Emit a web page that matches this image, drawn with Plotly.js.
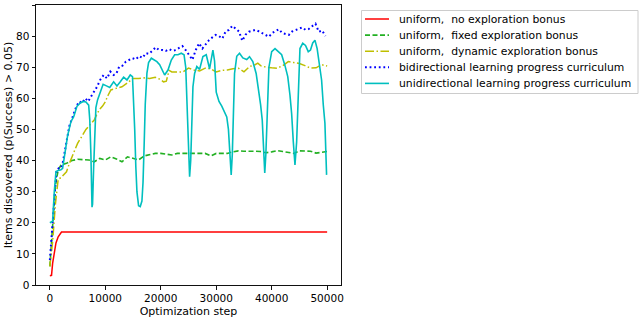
<!DOCTYPE html>
<html>
<head>
<meta charset="utf-8">
<script src="https://cdn.plot.ly/plotly-3.0.1.min.js"></script>
<style>html,body{margin:0;padding:0;background:#fff;}#chart{width:640px;height:318px;}</style>
</head>
<body>
<div id="chart"></div>
<script>
// ---- data ----
const seriesNames = [
  "uniform,\u00a0 no exploration bonus",
  "uniform,\u00a0 fixed exploration bonus",
  "uniform,\u00a0 dynamic exploration bonus",
  "bidirectional learning progress curriculum",
  "unidirectional learning progress curriculum"
];

const xRed = [0, 300, 500, 800, 1100, 1500, 1800, 2100, 50000];
const yRed = [3, 3.1, 7, 11, 13.5, 15.5, 16.5, 17, 17];

const xGreen = [0, 500, 1000, 1500, 2000, 3000, 4000, 5000, 6000, 7000, 8000, 9000, 10000, 11000, 12000, 13000, 14000, 15000, 16000, 17000, 18000, 19000, 20000, 21000, 22000, 23000, 24000, 25000, 26000, 27000, 28000, 29000, 30000, 31000, 32000, 33000, 34000, 35000, 36000, 37000, 38000, 39000, 40000, 41000, 42000, 43000, 44000, 45000, 46000, 47000, 48000, 49000, 50000];
const yGreen = [6, 20, 32, 37, 38.5, 39.1, 40, 40.4, 40.2, 40.2, 39.6, 40.7, 40.2, 41.2, 40.5, 39.6, 41.2, 40.7, 40.2, 41.5, 42, 42.3, 42.3, 42.1, 41.8, 42.3, 42.3, 42.3, 42.3, 42.3, 42.3, 41.5, 42.3, 42.3, 42.3, 42.8, 43.1, 43, 43.1, 43, 42.9, 42.5, 42.8, 43.2, 42.9, 42.6, 42.3, 43.1, 43.1, 43, 42.4, 42.7, 42.9];

const xYellow = [0, 500, 1000, 1500, 2000, 2500, 3000, 3500, 4000, 4500, 5000, 5500, 6000, 6500, 7000, 7500, 8000, 8500, 9000, 9500, 10000, 10500, 11000, 11500, 12000, 13000, 14000, 15000, 16000, 17000, 18000, 19000, 20000, 20500, 21000, 21500, 22000, 23000, 24000, 25000, 26000, 27000, 28000, 29000, 30000, 31000, 32000, 33000, 34000, 35000, 36000, 37000, 37500, 38000, 39000, 40000, 41000, 42000, 43000, 44000, 45000, 46000, 47000, 48000, 49000, 50000];
const yYellow = [6, 14, 26, 34, 34.5, 35.5, 36.4, 39, 41.5, 43.4, 45.5, 47, 48.5, 50, 51, 52, 53, 55, 56.5, 57.5, 58.9, 61, 62.7, 63, 63.2, 63.7, 65, 66.4, 66.4, 66.6, 66.4, 66.8, 66, 65.3, 65.5, 69, 68.5, 68.5, 68.5, 69.7, 69.1, 68.8, 69.7, 69.5, 68.5, 69, 69.1, 69.5, 69.7, 68.5, 70.2, 70.8, 71.3, 70.5, 70, 69.8, 69.7, 70.5, 71.8, 71.5, 71.2, 70.5, 69.7, 69.8, 70.8, 70.4];

const xBlue = [0, 300, 600, 900, 1200, 1600, 2000, 2300, 2700, 3100, 3500, 3900, 4300, 4800, 5300, 5800, 6400, 6900, 7400, 7900, 8500, 9100, 9700, 10300, 10900, 11500, 12000, 12500, 13100, 13700, 14300, 14900, 15500, 16100, 16700, 17300, 17900, 18500, 19100, 19700, 20300, 20900, 21500, 22100, 22700, 23300, 23900, 24500, 25100, 25700, 26300, 26900, 27500, 28100, 28700, 29300, 29900, 30500, 31100, 31700, 32300, 32900, 33500, 34100, 34700, 35300, 35900, 36500, 37100, 37700, 38300, 38900, 39500, 40100, 40700, 41300, 41900, 42500, 43100, 43700, 44300, 44900, 45500, 46100, 46700, 47300, 47900, 48500, 49100, 49700];
const yBlue = [8, 15, 24, 32, 37, 37.5, 37.5, 39, 43, 48, 51, 53, 55, 57.5, 59, 58.5, 60, 59, 60.5, 62, 63.7, 66, 67.5, 66.4, 68.6, 67.5, 68, 70.2, 70.5, 71.8, 72.3, 72.9, 72.5, 73.6, 73, 74.5, 74.3, 75.3, 76.4, 75.5, 75.5, 75.2, 75.8, 75.3, 75.5, 76.2, 76.8, 75.5, 74, 72.4, 75.5, 77.7, 76, 77.5, 78.7, 79.6, 80.4, 80, 79.2, 81.5, 82, 83.3, 82.5, 81.5, 78.5, 80.5, 81.4, 81.6, 82, 81.5, 80.9, 80.5, 79.8, 81, 81.6, 82.2, 81, 80.6, 80.4, 81.5, 82, 82.4, 82.8, 82, 82.3, 83.2, 84, 81.4, 81.8, 80];

const xCyan = [0, 500, 800, 1100, 1500, 2000, 2300, 2700, 3200, 3800, 4300, 4900, 5500, 6000, 6500, 7000, 7200, 7400, 7600, 7700, 7900, 8100, 8300, 8600, 9100, 9600, 10200, 10800, 11500, 12100, 12700, 13300, 13900, 14500, 14900, 15100, 15300, 15500, 15700, 16000, 16300, 16600, 16800, 17000, 17200, 17500, 17800, 18300, 18800, 19300, 19800, 20200, 20700, 21300, 21900, 22500, 23100, 23700, 24200, 24500, 24800, 25000, 25200, 25400, 25600, 25800, 26100, 26500, 27000, 27600, 28200, 28800, 29400, 29700, 30000, 30500, 31000, 31500, 31900, 32200, 32500, 32700, 32900, 33100, 33300, 33700, 34200, 34800, 35500, 36000, 36600, 37200, 37700, 38000, 38300, 38550, 38750, 38950, 39200, 39500, 40000, 40600, 41200, 41800, 42400, 42900, 43300, 43600, 43900, 44200, 44500, 44800, 45100, 45600, 46100, 46600, 47000, 47400, 47800, 48200, 48600, 49000, 49300, 49600, 49900];
const yCyan = [20, 20.5, 30, 36.5, 36.8, 37, 37.5, 42.5, 48, 52.5, 54.1, 57.5, 58.5, 59, 58.8, 57.8, 53, 42, 25, 26, 38, 50, 57, 59.5, 62, 64.5, 64, 63.5, 65.3, 64, 65.3, 66.8, 65.9, 67.5, 67, 60, 50, 38, 30, 25.5, 25.2, 27, 33, 45, 58, 68, 71.5, 72.9, 72.3, 71.8, 70.8, 69.5, 67.5, 69.1, 72.3, 74, 74, 74.5, 74, 70, 55, 42, 34.8, 40, 53, 63.7, 68, 70.2, 69.3, 73.4, 74, 69.5, 75.5, 72, 62, 59, 57.5, 55.5, 54, 50, 40, 35.4, 42, 55, 68, 73.5, 74.5, 73, 72.5, 73.4, 71.8, 68, 62, 58, 53, 42, 36, 42, 58, 70, 75, 76, 75, 74, 70.5, 67, 61, 55, 46, 38.6, 46, 64, 76, 77.7, 77, 75, 75.5, 77.8, 78.7, 76, 70, 65.9, 58, 52, 35.4];

const xTicks = [0, 10000, 20000, 30000, 40000, 50000];
const yTicks = [0, 10, 20, 30, 40, 50, 60, 70, 80, 90];

// ---- styling ----
const FONT = "DejaVu Sans, sans-serif";
const styles = [
  {color: "#ff0000", width: 1.5, dash: "solid"},
  {color: "#22b022", width: 1.6, dash: "5px,2.5px"},
  {color: "#bfbf00", width: 1.5, dash: "9px,2.5px,1.5px,2.5px"},
  {color: "#0000ff", width: 2, dash: "1.8px,2.8px"},
  {color: "#00bfbf", width: 1.6, dash: "solid"}
];
const xs = [xRed, xGreen, xYellow, xBlue, xCyan];
const ys = [yRed, yGreen, yYellow, yBlue, yCyan];

const traces = xs.map((x, i) => ({
  x: x, y: ys[i], name: seriesNames[i], mode: "lines",
  line: {color: styles[i].color, width: styles[i].width, dash: styles[i].dash},
  showlegend: false
}));

// plot area in pixels
const W = 640, H = 318, L = 36, R = 341, T = 5, B = 285;
const px = v => (v - L) / (R - L);
const py = v => (B - v) / (B - T);

// legend built from shapes + annotations (pixel positions -> paper)
const legRowY = [19, 35.1, 51.2, 67.3, 83.4];
const shapes = [{
  type: "rect", xref: "paper", yref: "paper",
  x0: px(361.5), x1: px(638), y0: py(93.5), y1: py(10.5),
  line: {color: "#cccccc", width: 1}, fillcolor: "#ffffff", layer: "above"
}];
const annotations = [];
legRowY.forEach((yy, i) => {
  shapes.push({
    type: "line", xref: "paper", yref: "paper",
    x0: px(365), x1: px(389), y0: py(yy), y1: py(yy),
    line: {color: styles[i].color, width: styles[i].width, dash: styles[i].dash}, layer: "above"
  });
  annotations.push({
    xref: "paper", yref: "paper", x: px(397), y: py(yy),
    xanchor: "left", yanchor: "middle", showarrow: false,
    text: seriesNames[i], font: {family: FONT, size: 10.8, color: "#000"}
  });
});

const layout = {
  width: W, height: H,
  margin: {l: L, r: W - R, t: T, b: H - B},
  paper_bgcolor: "#ffffff", plot_bgcolor: "#ffffff",
  font: {family: FONT, size: 10.5, color: "#000"},
  showlegend: false,
  shapes: shapes,
  annotations: annotations,
  xaxis: {
    range: [-2500, 52500], tickvals: xTicks, ticktext: xTicks.map(String),
    showgrid: false, zeroline: false, showline: true, mirror: true,
    linecolor: "#111", linewidth: 1, ticks: "outside", ticklen: 3.5, tickcolor: "#111",
    tickfont: {family: FONT, size: 10.5, color: "#000"},
    title: {text: "Optimization step", font: {family: FONT, size: 11, color: "#000"}, standoff: 4},
    automargin: false
  },
  yaxis: {
    range: [0, 90], tickvals: yTicks, ticktext: yTicks.map(String),
    showgrid: false, zeroline: false, showline: true, mirror: true,
    linecolor: "#111", linewidth: 1, ticks: "outside", ticklen: 3.5, tickcolor: "#111",
    tickfont: {family: FONT, size: 10.5, color: "#000"},
    title: {text: "Items discovered (p(Success) > 0.05)", font: {family: FONT, size: 11, color: "#000"}, standoff: 1},
    automargin: false
  }
};

Plotly.newPlot("chart", traces, layout, {displayModeBar: false, staticPlot: true});
</script>
</body>
</html>
